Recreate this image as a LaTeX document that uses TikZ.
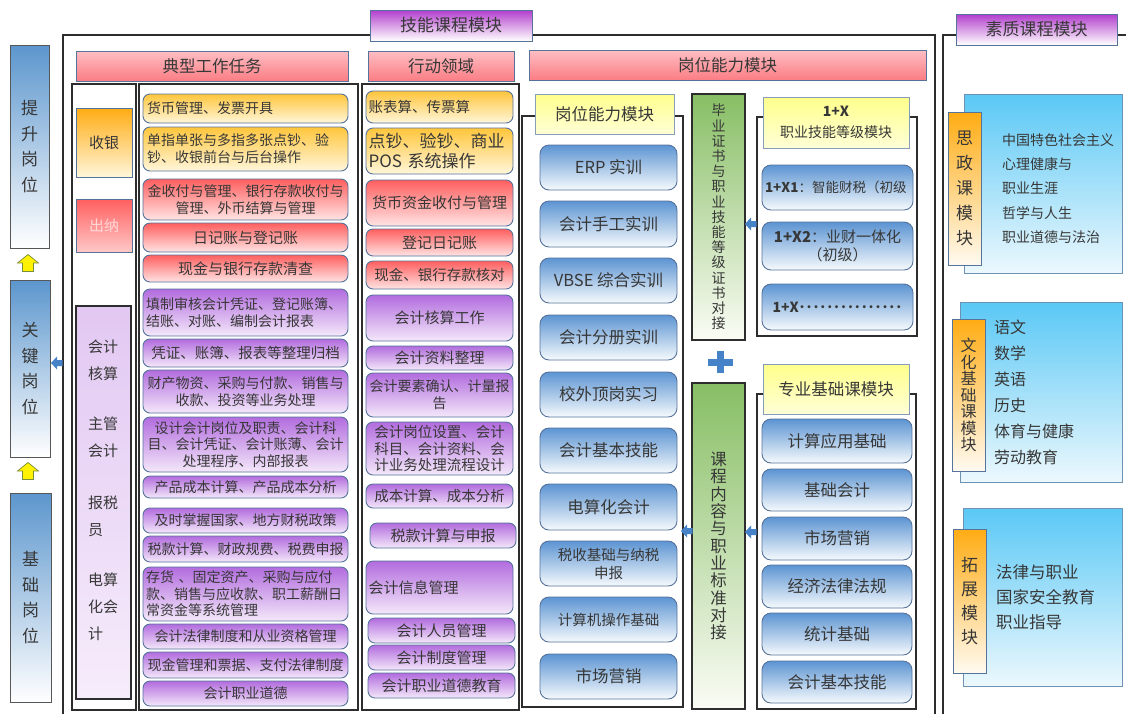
\documentclass[tikz,border=0pt]{standalone}
\usepackage{fontspec}
\setmainfont{Noto Sans CJK SC}
\definecolor{bordc}{RGB}{85,115,155}
\definecolor{frmc}{RGB}{45,45,45}
\definecolor{txt}{RGB}{55,55,55}
\definecolor{ytop}{RGB}{255,198,60}
\definecolor{ybot}{RGB}{255,246,218}
\definecolor{rtop}{RGB}{255,95,95}
\definecolor{rbot}{RGB}{255,228,228}
\definecolor{ptop}{RGB}{178,108,222}
\definecolor{pbot}{RGB}{244,232,250}
\definecolor{btop}{RGB}{92,148,210}
\definecolor{bbot}{RGB}{246,250,253}
\definecolor{htop}{RGB}{255,190,195}
\definecolor{hbot}{RGB}{250,125,132}
\definecolor{yhtop}{RGB}{255,255,140}
\definecolor{yhbot}{RGB}{255,255,215}
\definecolor{ttop}{RGB}{178,62,205}
\definecolor{gtop}{RGB}{135,190,100}
\definecolor{gbot}{RGB}{250,252,245}
\definecolor{postop}{RGB}{92,150,205}
\definecolor{qtop}{RGB}{90,200,245}
\definecolor{qbot}{RGB}{236,248,253}
\definecolor{qbord}{RGB}{110,145,180}
\definecolor{otop}{RGB}{255,172,20}
\definecolor{obot}{RGB}{255,250,240}
\definecolor{lavtop}{RGB}{226,200,242}
\definecolor{lavbot}{RGB}{246,236,251}
\definecolor{arrb}{RGB}{70,130,200}
\definecolor{yarrd}{RGB}{120,140,60}
\tikzset{
 bx0/.style={inner sep=0pt, outer sep=0pt, text=txt, align=center},
 task/.style={bx0, rounded corners=7pt, draw=bordc, line width=0.9pt, font=\fontsize{14}{17}\selectfont},
 ty/.style={task, top color=ytop, bottom color=ybot},
 tr/.style={task, top color=rtop, bottom color=rbot},
 tp/.style={task, top color=ptop, bottom color=pbot},
 btn/.style={bx0, rounded corners=9pt, draw=bordc, line width=0.9pt, top color=btop, bottom color=bbot, font=\fontsize{16.5}{19}\selectfont},
 hdr/.style={bx0, draw=bordc, line width=1pt, top color=htop, bottom color=hbot, font=\fontsize{16.5}{19}\selectfont},
 yhdr/.style={bx0, draw=bordc!70, line width=1pt, top color=yhtop, bottom color=yhbot, font=\fontsize{16.5}{19}\selectfont},
 ttl/.style={bx0, draw=bordc, line width=1pt, top color=ttop, bottom color=white, font=\fontsize{17}{20}\selectfont},
 frm/.style={draw=frmc, line width=1.2pt},
 grn/.style={bx0, draw=frmc, line width=1.4pt, top color=gtop, bottom color=gbot},
 posb/.style={bx0, draw=frmc!80, line width=1pt, top color=postop, bottom color=white, font=\fontsize{17}{25.7}\selectfont},
 qbox/.style={bx0, draw=qbord, line width=1pt, top color=qtop, bottom color=qbot},
 olab/.style={bx0, draw=bordc, line width=1pt, top color=otop, bottom color=obot},
 qtxt/.style={inner sep=0pt, text=txt, align=left},
 ltxt/.style={inner sep=0pt, text=txt, align=left, font=\fontsize{15}{27}\selectfont},
 yarr/.style={draw=yarrd, fill=yellow, line width=0.7pt, line join=miter},
 barr/.style={fill=arrb, draw=none},
}
\newcommand\mybox[7]{\node[#6, minimum width={(#4)-(#2)}, minimum height={(#5)-(#3)}] (#1) at ({((#2)+(#4))/2},{-((#3)+(#5))/2}) {#7};}
\newcommand\uparr[3]{\coordinate (#1) at (#2,#3);
  \draw[yarr, shift={(#1)}] (-5.5,-8.5) -- (5.5,-8.5) -- (5.5,0) -- (10.5,0) -- (0,8.5) -- (-10.5,0) -- (-5.5,0) -- cycle;}
\newcommand\lfarr[3]{\coordinate (#1) at (#2,#3);
  \fill[barr, shift={(#1)}] (5.5,-3) -- (0,-3) -- (0,-6.5) -- (-6,0) -- (0,6.5) -- (0,3) -- (5.5,3) -- cycle;}
\newcommand\dt{\makebox[6.9pt]{·}}
\begin{document}
\begin{tikzpicture}[x=1pt,y=1pt]
\useasboundingbox[fill=white] (0,0) rectangle (1126,-713);
% frames
\draw[frm] (63,-35) rectangle (935,-720);
\draw[frm] (943,-35) rectangle (1140,-720);
\draw[frm] (72,-84) rectangle (136,-710);
\draw[frm] (139,-84) rectangle (358,-710);
\draw[frm] (362,-84) rectangle (519,-710);
\draw[frm] (522,-116) rectangle (683,-707);
\draw[frm] (757,-117) rectangle (917,-336);
\draw[frm] (757,-394) rectangle (916,-709);
% titles
\mybox{ttlA}{370}{10}{532}{41}{ttl}{技能课程模块}
\mybox{ttlB}{956}{14}{1117}{45}{ttl}{素质课程模块}
% headers
\mybox{hdrA}{76}{51}{348}{81}{hdr}{典型工作任务}
\mybox{hdrB}{368}{51}{514}{81}{hdr}{行动领域}
\mybox{hdrC}{529}{50}{926}{80}{hdr}{岗位能力模块}
% positions
\mybox{up}{10}{45}{49}{248}{posb}{提\\升\\岗\\位}
\mybox{key}{10}{280}{50}{457}{posb}{关\\键\\岗\\位}
\mybox{basic}{10}{493}{51}{702}{posb}{基\\础\\岗\\位}
\uparr{ar1}{28}{-263}
\uparr{ar2}{28}{-471}
% left roles
\mybox{shouyin}{76}{108}{132}{177}{bx0, draw=bordc, line width=0.9pt, top color=otop, bottom color=ybot, font=\fontsize{15}{18}\selectfont}{收银}
\mybox{chuna}{76}{199}{132}{252}{bx0, draw=bordc, line width=0.9pt, top color=rtop, bottom color={rgb,255:red,255;green,200;blue,200}, text={rgb,255:red,255;green,215;blue,215}, font=\fontsize{15}{18}\selectfont}{出纳}
\mybox{lav}{76}{306}{131}{699}{bx0, draw=frmc, line width=1.2pt, top color=lavtop, bottom color=lavbot}{}
\node[ltxt, anchor=west] (l1) at (88,-360) {会计\\核算};
\node[ltxt, anchor=west] (l2) at (88,-437) {主管\\会计};
\node[ltxt, anchor=west] (l3) at (88,-516) {报税\\员};
\node[ltxt, anchor=west] (l4) at (88,-607) {电算\\化会\\计};
\lfarr{ba1}{57}{-363}
% typical tasks
\mybox{t1}{143}{94}{348}{123}{ty, text width=197pt, align=left}{货币管理、发票开具}
\mybox{t2}{143}{127}{348}{171}{ty, text width=197pt, align=left}{单指单张与多指多张点钞、验\\钞、收银前台与后台操作}
\mybox{t3}{143}{179}{348}{220}{tr}{金收付与管理、银行存款收付与\\管理、外币结算与管理}
\mybox{t4}{143}{223}{348}{252}{tr, font=\fontsize{15}{18}\selectfont}{日记账与登记账}
\mybox{t5}{143}{255}{348}{282}{tr, font=\fontsize{15}{18}\selectfont}{现金与银行存款清查}
\mybox{t6}{143}{289}{348}{336}{tp, text width=199pt, align=left}{填制审核会计凭证、登记账簿、\\结账、对账、编制会计报表}
\mybox{t7}{143}{339}{348}{367}{tp, font=\fontsize{14.5}{17}\selectfont}{凭证、账簿、报表等整理归档}
\mybox{t8}{143}{370}{348}{413}{tp}{财产物资、采购与付款、销售与\\收款、投资等业务处理}
\mybox{t9}{143}{417}{348}{472}{tp, font=\fontsize{14}{16.5}\selectfont}{设计会计岗位及职责、会计科\\目、会计凭证、会计账薄、会计\\处理程序、内部报表}
\mybox{t10}{143}{476}{348}{498}{tp}{产品成本计算、产品成本分析}
\mybox{t11}{143}{508}{348}{533}{tp}{及时掌握国家、地方财税政策}
\mybox{t12}{143}{536}{348}{562}{tp}{税款计算、财政规费、税费申报}
\mybox{t13}{143}{567}{348}{621}{tp, text width=199pt, align=left, font=\fontsize{14}{16.5}\selectfont}{存货 、固定资产、采购与应付\\款、销售与应收款、职工薪酬日\\常资金等系统管理}
\mybox{t14}{143}{624}{348}{649}{tp}{会计法律制度和从业资格管理}
\mybox{t15}{143}{652}{348}{678}{tp}{现金管理和票据、支付法律制度}
\mybox{t16}{143}{681}{348}{706}{tp}{会计职业道德}
% action domain
\mybox{a1}{366}{91}{513}{123}{ty, text width=142pt, align=left, font=\fontsize{14.5}{17}\selectfont}{账表算、传票算}
\mybox{a2}{366}{128}{513}{174}{ty, text width=142pt, align=left, font=\fontsize{17}{20}\selectfont}{点钞、验钞、商业\\POS 系统操作}
\mybox{a3}{366}{180}{513}{226}{tr, font=\fontsize{15}{18}\selectfont}{货币资金收付与管理}
\mybox{a4}{366}{229}{513}{256}{tr, font=\fontsize{15}{18}\selectfont}{登记日记账}
\mybox{a5}{366}{261}{513}{289}{tr, font=\fontsize{14.5}{17}\selectfont}{现金、银行存款核对}
\mybox{a6}{366}{295}{513}{341}{tp, font=\fontsize{15}{18}\selectfont}{会计核算工作}
\mybox{a7}{366}{346}{513}{370}{tp, font=\fontsize{15}{18}\selectfont}{会计资料整理}
\mybox{a8}{366}{373}{513}{417}{tp}{会计要素确认、计量报\\告}
\mybox{a9}{366}{422}{513}{475}{tp, font=\fontsize{14.5}{16.3}\selectfont}{会计岗位设置、会计\\科目、会计资料、会\\计业务处理流程设计}
\mybox{a10}{366}{484}{513}{508}{tp, font=\fontsize{14.5}{17}\selectfont}{成本计算、成本分析}
\mybox{a11}{370}{523}{516}{548}{tp, font=\fontsize{15}{18}\selectfont}{税款计算与申报}
\mybox{a12}{366}{561}{513}{614}{tp, text width=142pt, align=left, font=\fontsize{15}{18}\selectfont}{会计信息管理}
\mybox{a13}{368}{618}{515}{643}{tp, font=\fontsize{15}{18}\selectfont}{会计人员管理}
\mybox{a14}{368}{645}{515}{670}{tp, font=\fontsize{15}{18}\selectfont}{会计制度管理}
\mybox{a15}{368}{673}{515}{698}{tp, font=\fontsize{15}{18}\selectfont}{会计职业道德教育}
% ability module
\mybox{abh}{535}{94}{674}{134}{yhdr}{岗位能力模块}
\mybox{b1}{540}{145}{677}{190}{btn}{ERP 实训}
\mybox{b2}{540}{201}{677}{247}{btn}{会计手工实训}
\mybox{b3}{540}{258}{677}{303}{btn}{VBSE 综合实训}
\mybox{b4}{540}{315}{677}{360}{btn}{会计分册实训}
\mybox{b5}{540}{372}{677}{417}{btn}{校外顶岗实习}
\mybox{b6}{540}{428}{677}{473}{btn}{会计基本技能}
\mybox{b7}{540}{484}{677}{530}{btn}{电算化会计}
\mybox{b8}{540}{541}{677}{586}{btn, font=\fontsize{14.5}{18}\selectfont}{税收基础与纳税\\申报}
\mybox{b9}{540}{597}{677}{642}{btn, font=\fontsize{14.5}{18}\selectfont}{计算机操作基础}
\mybox{b10}{540}{654}{677}{699}{btn}{市场营销}
% green
\mybox{g1}{692}{94}{745}{340}{grn, font=\fontsize{14}{15.2}\selectfont}{毕\\业\\证\\书\\与\\职\\业\\技\\能\\等\\级\\证\\书\\对\\接}
\mybox{g2}{692}{383}{745}{709}{grn, font=\fontsize{16.5}{17.3}\selectfont}{课\\程\\内\\容\\与\\职\\业\\标\\准\\对\\接}
\lfarr{ba2}{687}{-531}
\lfarr{ba3}{751}{-224}
\lfarr{ba4}{751}{-532}
\fill[arrb] (708,-358.5) rectangle (733,-365.5);
\fill[arrb] (717,-351) rectangle (724,-373);
% 1+X
\mybox{xh}{763}{97}{909}{148}{yhdr, font=\fontsize{14}{21}\selectfont}{\textbf{1+X}\\职业技能等级模块}
\mybox{x1}{762}{165}{913}{210}{btn, text width=145pt, align=left, font=\fontsize{13.5}{17}\selectfont}{\textbf{1+X1}：智能财税（初级}
\mybox{x2}{762}{222}{913}{270}{btn, font=\fontsize{15}{18}\selectfont}{\textbf{1+X2}：业财一体化\\（初级）}
\mybox{x3}{762}{284}{913}{330}{btn, text width=130pt, align=left, font=\fontsize{14}{17}\selectfont}{\textbf{1+X}\dt\dt\dt\dt\dt\dt\dt\dt\dt\dt\dt\dt\dt\dt\dt}
% professional basic
\mybox{ph}{763}{364}{909}{414}{yhdr}{专业基础课模块}
\mybox{p1}{762}{419}{912}{463}{btn}{计算应用基础}
\mybox{p2}{762}{469}{912}{511}{btn}{基础会计}
\mybox{p3}{762}{517}{912}{560}{btn}{市场营销}
\mybox{p4}{762}{565}{912}{608}{btn}{经济法律法规}
\mybox{p5}{762}{613}{912}{655}{btn}{统计基础}
\mybox{p6}{762}{661}{912}{703}{btn}{会计基本技能}
% quality
\mybox{q1}{964}{94}{1122}{273}{qbox}{}
\mybox{o1}{948}{112}{981}{265}{olab, font=\fontsize{17}{25}\selectfont}{思\\政\\课\\模\\块}
\node[qtxt, font=\fontsize{14}{24.3}\selectfont, anchor=west] (q1t) at (1002,-188.5) {中国特色社会主义\\心理健康与\\职业生涯\\哲学与人生\\职业道德与法治};
\mybox{q2}{960}{302}{1122}{482}{qbox}{}
\mybox{o2}{952}{319}{985}{471}{olab, font=\fontsize{16}{16.5}\selectfont}{文\\化\\基\\础\\课\\模\\块}
\node[qtxt, font=\fontsize{16}{26}\selectfont, anchor=west] (q2t) at (994,-392) {语文\\数学\\英语\\历史\\体育与健康\\劳动教育};
\mybox{q3}{963}{508}{1122}{686}{qbox}{}
\mybox{o3}{953}{529}{986}{673}{olab, font=\fontsize{17}{24.3}\selectfont}{拓\\展\\模\\块}
\node[qtxt, font=\fontsize{16.5}{25}\selectfont, anchor=west] (q3t) at (996,-597) {法律与职业\\国家安全教育\\职业指导};
\end{tikzpicture}
\end{document}
